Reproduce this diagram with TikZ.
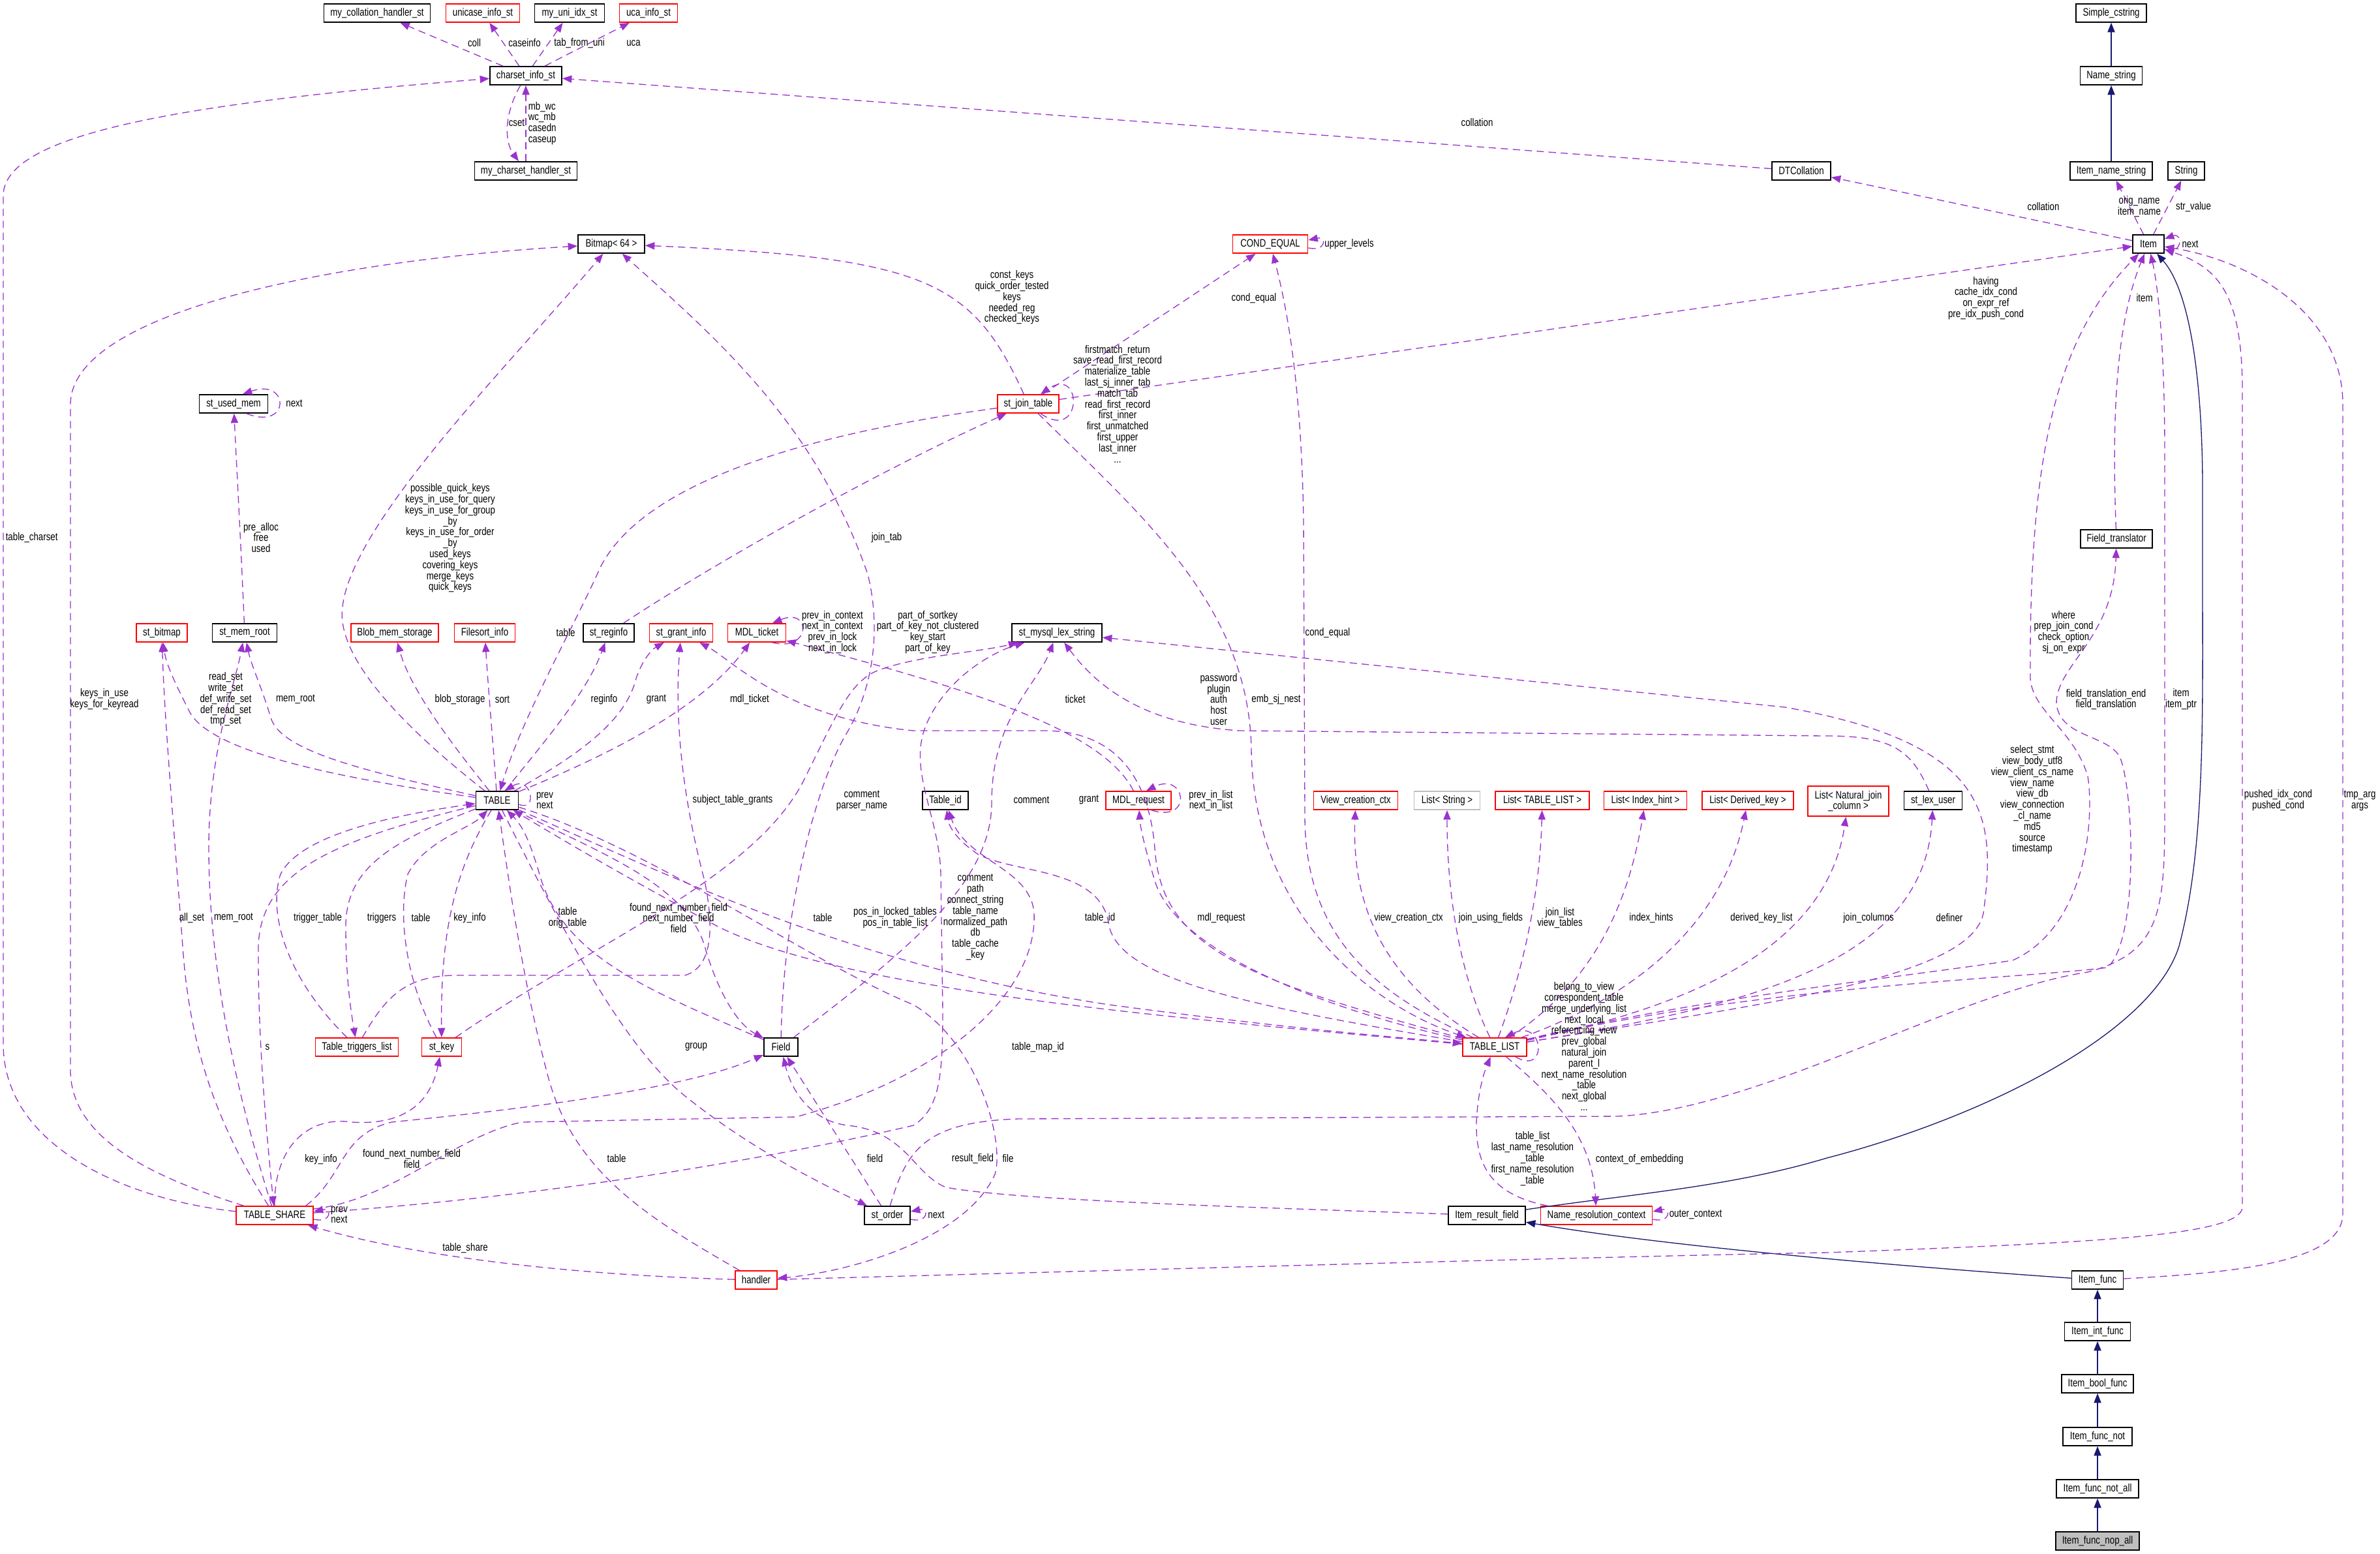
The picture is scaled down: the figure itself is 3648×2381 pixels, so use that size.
\documentclass[tikz,border=0pt]{standalone}
\usepackage{fontspec}
\newfontfamily\lblfont{Liberation Sans}[FakeStretch=0.8]
\newcommand{\lbl}{\lblfont\fontsize{4.15}{4.2}\selectfont}
\usetikzlibrary{arrows.meta}
\definecolor{depc}{HTML}{9A32CD}
\definecolor{inhc}{HTML}{191970}
\definecolor{redc}{HTML}{FF0000}
\definecolor{grayc}{HTML}{BFBFBF}
\tikzset{
 box/.style={draw=black, line width=0.45pt, rectangle, minimum height=7pt, inner sep=0.5pt, font=\lbl, align=center},
 rbox/.style={box, draw=redc},
 gbox/.style={box, draw=grayc},
 dep/.style={draw=depc, line width=0.33pt, dash pattern=on 2.8pt off 1.8pt, -{Triangle[length=3.6pt,width=2.8pt]}},
 inh/.style={draw=inhc, line width=0.33pt, -{Triangle[length=3.6pt,width=2.8pt]}},
 lab/.style={font=\lbl, align=center, inner sep=0pt},
}
\begin{document}
\begin{tikzpicture}[x=0.25pt,y=-0.25pt]
\useasboundingbox (0,0) rectangle (3648,2381);
% ---------- nodes ----------
\node[box,minimum width=40.75pt] (collh) at (578,20) {my\_collation\_handler\_st};
\node[rbox,minimum width=28.25pt] (unic) at (740,20) {unicase\_info\_st};
\node[box,minimum width=26.75pt] (uniidx) at (873,20) {my\_uni\_idx\_st};
\node[rbox,minimum width=22.25pt] (uca) at (994,20) {uca\_info\_st};
\node[box,minimum width=27pt] (scs) at (3236,20) {Simple\_cstring};
\node[box,minimum width=27.5pt] (csi) at (806,116) {charset\_info\_st};
\node[box,minimum width=23.75pt] (ns) at (3236,116) {Name\_string};
\node[box,minimum width=39.25pt] (chh) at (806,262) {my\_charset\_handler\_st};
\node[box,minimum width=22.5pt] (dtc) at (2761,262) {DTCollation};
\node[box,minimum width=31.5pt] (ins) at (3236,262) {Item\_name\_string};
\node[box,minimum width=14pt] (str) at (3351,262) {String};
\node[box,minimum width=25.5pt] (bmp) at (937,374) {Bitmap< 64 >};
\node[rbox,minimum width=28.75pt] (ceq) at (1947,374) {COND\_EQUAL};
\node[box,minimum width=12pt] (item) at (3293,374) {Item};
\node[box,minimum width=26.25pt] (sum) at (358,619) {st\_used\_mem};
\node[rbox,minimum width=23.5pt] (sjt) at (1576,619) {st\_join\_table};
\node[box,minimum width=27.5pt] (ftr) at (3244,826) {Field\_translator};
\node[rbox,minimum width=19.5pt] (sbm) at (248,970) {st\_bitmap};
\node[box,minimum width=24.75pt] (smr) at (375,970) {st\_mem\_root};
\node[rbox,minimum width=33.5pt] (bms) at (605,970) {Blob\_mem\_storage};
\node[rbox,minimum width=23.25pt] (fsi) at (743,970) {Filesort\_info};
\node[box,minimum width=19.5pt] (sri) at (933,970) {st\_reginfo};
\node[rbox,minimum width=24.25pt] (sgi) at (1044,970) {st\_grant\_info};
\node[rbox,minimum width=22.25pt] (mdlt) at (1160,970) {MDL\_ticket};
\node[box,minimum width=34.5pt] (lex) at (1620,970) {st\_mysql\_lex\_string};
\node[box,minimum width=16.25pt] (tbl) at (762,1227) {TABLE};
\node[box,minimum width=17.5pt] (tid) at (1449,1227) {Table\_id};
\node[rbox,minimum width=25pt] (mdlr) at (1745,1227) {MDL\_request};
\node[rbox,minimum width=32.25pt] (vcc) at (2078,1227) {View\_creation\_ctx};
\node[gbox,minimum width=25.25pt] (lstr) at (2218,1227) {List< String >};
\node[rbox,minimum width=36pt] (ltl) at (2364,1227) {List< TABLE\_LIST >};
\node[rbox,minimum width=31.75pt] (lih) at (2522,1227) {List< Index\_hint >};
\node[rbox,minimum width=35pt] (ldk) at (2679,1227) {List< Derived\_key >};
\node[rbox,minimum width=31pt,minimum height=11.5pt] (lnj) at (2833,1228) {List< Natural\_join\\\_column >};
\node[box,minimum width=22.25pt] (slu) at (2963,1227) {st\_lex\_user};
\node[rbox,minimum width=31.75pt] (ttl) at (547,1605) {Table\_triggers\_list};
\node[rbox,minimum width=15.25pt] (skey) at (677,1605) {st\_key};
\node[box,minimum width=13pt] (fld) at (1197,1605) {Field};
\node[rbox,minimum width=24.5pt] (tlist) at (2291,1605) {TABLE\_LIST};
\node[rbox,minimum width=29.5pt] (tsh) at (421,1863) {TABLE\_SHARE};
\node[box,minimum width=17.5pt] (sord) at (1360,1863) {st\_order};
\node[box,minimum width=29.5pt] (irf) at (2279,1863) {Item\_result\_field};
\node[rbox,minimum width=42.75pt] (nrc) at (2447,1863) {Name\_resolution\_context};
\node[rbox,minimum width=16pt] (hnd) at (1159,1962) {handler};
\node[box,minimum width=19.75pt] (ifn) at (3215,1962) {Item\_func};
\node[box,minimum width=25.25pt] (iint) at (3215,2041) {Item\_int\_func};
\node[box,minimum width=27.5pt] (ibool) at (3215,2121) {Item\_bool\_func};
\node[box,minimum width=26.5pt] (inot) at (3215,2202) {Item\_func\_not};
\node[box,minimum width=31.5pt] (inotall) at (3215,2282) {Item\_func\_not\_all};
\node[box,minimum width=32pt,fill=grayc] (inop) at (3215,2362) {Item\_func\_nop\_all};
% ---------- inheritance ----------
\draw[inh] (ins) -- (ns);
\draw[inh] (ns) -- (scs);
\draw[inh] (iint) -- (ifn);
\draw[inh] (ibool) -- (iint);
\draw[inh] (inot) -- (ibool);
\draw[inh] (inotall) -- (inot);
\draw[inh] (inop) -- (inotall);
\draw[inh] (ifn) .. controls (2900,1940) and (2550,1910) .. (irf);
\draw[inh] (irf) .. controls (2500,1830) and (2650,1820) .. (2800,1775) .. controls (3050,1710) and (3300,1580) .. (3340,1450) .. controls (3380,1300) and (3376,1100) .. (3376,900) -- (3376,750) .. controls (3376,600) and (3360,450) .. (item);
% ---------- charset group ----------
\draw[dep] (csi) -- (collh);
\draw[dep] (csi) -- (unic);
\draw[dep] (csi) -- (uniidx);
\draw[dep] (csi) -- (uca);
\draw[dep] (csi) .. controls (770,180) and (775,220) .. (chh);
\draw[dep] (chh.north) -- (csi.south);
\draw[dep] (tsh) .. controls (200,1840) and (5,1760) .. (5,1600) -- (5,300) .. controls (5,210) and (250,160) .. (csi);
\draw[dep] (dtc) -- (csi);
\draw[dep] (item) -- (dtc);
\draw[dep] (item) -- (ins);
\draw[dep] (item) -- (str);
\draw[dep] ([yshift=-2pt]item.east) .. controls +(28,10) and +(28,-10) .. ([yshift=2pt]item.east);
% ---------- Bitmap ----------
\draw[dep] (tsh) .. controls (220,1800) and (108,1740) .. (108,1640) -- (108,620) .. controls (108,480) and (500,400) .. (bmp);
\draw[dep] (tbl) .. controls (600,1100) and (515,1000) .. (525,930) .. controls (540,800) and (780,560) .. (bmp);
\draw[dep] (sjt) .. controls (1490,430) and (1420,395) .. (bmp);
\draw[dep] (fld) .. controls (1200,1400) and (1250,1200) .. (1300,1120) .. controls (1340,1050) and (1350,960) .. (1330,880) .. controls (1250,650) and (1100,520) .. (bmp);
% ---------- st_used_mem ----------
\draw[dep] ([xshift=5pt]sum.south) .. controls +(67,27) and +(73,-25) .. ([xshift=3.5pt]sum.north);
\draw[dep] (smr) .. controls (370,850) and (362,700) .. (sum);
% ---------- st_join_table ----------
\draw[dep] ([xshift=4.75pt]sjt.south) .. controls +(65,45) and +(65,-45) .. ([xshift=4.75pt]sjt.north);
\draw[dep] (sjt) -- (ceq);
\draw[dep] (sjt) -- (item);
\draw[dep] (sjt) .. controls (1200,670) and (980,750) .. (920,870) .. controls (880,960) and (800,1100) .. (tbl);
\draw[dep] (sri) .. controls (1100,860) and (1350,720) .. (sjt);
\draw[dep] (sjt) .. controls (1750,790) and (1915,930) .. (1918,1150) .. controls (1922,1400) and (2100,1540) .. (tlist);
% ---------- COND_EQUAL ----------
\draw[dep] ([yshift=-1.5pt]ceq.east) .. controls +(28,6) and +(28,-6) .. ([yshift=1.5pt]ceq.east);
\draw[dep] (tlist) .. controls (2100,1520) and (2000,1430) .. (2000,1250) -- (1998,800) .. controls (1995,600) and (1975,480) .. (ceq);
% ---------- Item ----------
\draw[dep] (tlist) .. controls (2600,1530) and (2900,1500) .. (3085,1472) .. controls (3200,1420) and (3210,1250) .. (3200,1190) .. controls (3180,1120) and (3115,1090) .. (3112,1040) .. controls (3110,700) and (3150,520) .. (item);
\draw[dep] (ftr) .. controls (3235,600) and (3250,480) .. (item);
\draw[dep] (tlist) .. controls (2700,1510) and (3100,1500) .. (3230,1483) .. controls (3280,1440) and (3270,1200) .. (3248,1158) .. controls (3225,1125) and (3160,1130) .. (3152,1080) .. controls (3150,1020) and (3240,980) .. (ftr);
\draw[dep] (sord) .. controls (1390,1760) and (1420,1720) .. (1560,1715) -- (2480,1711) .. controls (2700,1700) and (3000,1520) .. (3200,1490) .. controls (3310,1460) and (3318,1400) .. (3318,1250) -- (3318,700) .. controls (3318,550) and (3310,450) .. (item);
\draw[dep] (hnd) .. controls (1800,1945) and (2500,1925) .. (2800,1920) .. controls (3200,1905) and (3437,1895) .. (3437,1850) -- (3437,600) .. controls (3437,450) and (3400,410) .. (item);
\draw[dep] (ifn) .. controls (3450,1950) and (3591,1930) .. (3591,1860) -- (3591,620) .. controls (3591,480) and (3450,400) .. (item);
% ---------- TABLE out ----------
\draw[dep] (tbl) .. controls (950,1150) and (1080,1080) .. (mdlt);
\draw[dep] (tbl) .. controls (900,1150) and (960,1100) .. (975,1040) .. controls (985,1010) and (1000,995) .. (sgi);
\draw[dep] (tbl) .. controls (840,1130) and (900,1060) .. (sri);
\draw[dep] (tbl) .. controls (755,1130) and (748,1050) .. (fsi);
\draw[dep] (tbl) .. controls (700,1150) and (630,1060) .. (bms);
\draw[dep] (tbl) .. controls (550,1180) and (430,1150) .. (415,1100) .. controls (400,1050) and (385,1020) .. (smr);
\draw[dep] (tbl) .. controls (500,1190) and (320,1150) .. (290,1090) .. controls (270,1050) and (255,1020) .. (sbm);
\draw[dep] ([yshift=-1.5pt]tbl.east) .. controls +(30,12) and +(40,-25) .. ([xshift=3pt]tbl.north);
\draw[dep] (tbl) .. controls (600,1290) and (530,1330) .. (530,1420) .. controls (530,1500) and (538,1550) .. (ttl);
\draw[dep] (tbl) .. controls (700,1330) and (675,1420) .. (skey);
\draw[dep] (tbl) .. controls (500,1290) and (400,1340) .. (396,1450) .. controls (395,1600) and (410,1750) .. (tsh);
\draw[dep] (tbl) .. controls (850,1400) and (950,1600) .. (1050,1680) .. controls (1150,1760) and (1250,1810) .. (sord);
\draw[dep] (tbl) .. controls (900,1300) and (1050,1350) .. (1080,1450) .. controls (1100,1520) and (1130,1570) .. (fld);
\draw[dep] (tbl) .. controls (1000,1300) and (1250,1480) .. (1400,1540) .. controls (1500,1600) and (1540,1750) .. (1525,1800) .. controls (1480,1900) and (1300,1950) .. (hnd);
\draw[dep] (tbl) .. controls (1000,1330) and (1300,1480) .. (1700,1540) .. controls (2000,1580) and (2150,1590) .. (tlist);
% ---------- into TABLE ----------
\draw[dep] (ttl) .. controls (440,1500) and (410,1400) .. (430,1340) .. controls (460,1280) and (600,1250) .. (tbl);
\draw[dep] (skey) .. controls (620,1500) and (610,1400) .. (625,1340) .. controls (650,1290) and (720,1270) .. (tbl);
\draw[dep] (fld) .. controls (1000,1520) and (870,1470) .. (830,1350) .. controls (815,1300) and (805,1270) .. (tbl);
\draw[dep] (hnd) .. controls (1000,1870) and (880,1800) .. (840,1650) .. controls (800,1500) and (780,1350) .. (tbl);
\draw[dep] (tlist) .. controls (1800,1560) and (1300,1520) .. (1100,1420) .. controls (950,1340) and (850,1280) .. (tbl);
% ---------- TABLE_SHARE out ----------
\draw[dep] (tsh) .. controls (330,1720) and (290,1600) .. (280,1450) .. controls (265,1250) and (252,1100) .. (sbm);
\draw[dep] (tsh) .. controls (370,1700) and (320,1500) .. (320,1300) .. controls (320,1150) and (360,1050) .. (smr);
\draw[dep] (tsh) .. controls (420,1760) and (470,1710) .. (540,1720) .. controls (620,1725) and (660,1690) .. (skey);
\draw[dep] ([xshift=-3pt]tsh.north east) .. controls (530,1800) and (520,1740) .. (600,1720) .. controls (800,1700) and (1050,1670) .. (fld);
\draw[dep] ([yshift=-1.5pt]tsh.east) .. controls +(28,6) and +(28,-6) .. ([yshift=1.5pt]tsh.east);
\draw[dep] ([yshift=1pt]tsh.east) .. controls (900,1830) and (1250,1760) .. (1400,1725) .. controls (1440,1700) and (1445,1650) .. (1445,1550) -- (1442,1340) .. controls (1440,1250) and (1390,1180) .. (1420,1110) .. controls (1450,1040) and (1520,1000) .. (lex);
\draw[dep] ([yshift=2.5pt]tsh.east) .. controls (600,1840) and (700,1740) .. (800,1720) -- (1220,1712) .. controls (1450,1650) and (1590,1520) .. (1585,1400) .. controls (1580,1330) and (1480,1320) .. (tid);
\draw[dep] (hnd) .. controls (900,1955) and (650,1930) .. (tsh);
% ---------- misc ----------
\draw[dep] (sord) -- (fld);
\draw[dep] ([yshift=-1.5pt]sord.east) .. controls +(28,6) and +(28,-6) .. ([yshift=1.5pt]sord.east);
\draw[dep] (irf) .. controls (1900,1850) and (1560,1840) .. (1450,1820) .. controls (1400,1800) and (1390,1735) .. (1300,1725) .. controls (1250,1720) and (1215,1680) .. (fld);
\draw[dep] (skey) .. controls (900,1450) and (1150,1350) .. (1230,1200) .. controls (1280,1100) and (1300,1050) .. (1340,1030) .. controls (1400,1005) and (1500,1000) .. (lex);
\draw[dep] (fld) .. controls (1400,1450) and (1520,1350) .. (1520,1230) .. controls (1520,1100) and (1590,1050) .. (lex);
\draw[dep] (ttl) .. controls (590,1530) and (620,1495) .. (700,1495) -- (1050,1495) .. controls (1100,1480) and (1090,1400) .. (1080,1350) .. controls (1040,1200) and (1035,1080) .. (sgi);
\draw[dep] ([xshift=6pt]mdlt.south) .. controls +(60,15) and +(60,-25) .. ([xshift=6pt]mdlt.north);
\draw[dep] (mdlr) .. controls (1690,1120) and (1500,1060) .. (mdlt);
\draw[dep] ([xshift=5pt]mdlr.south) .. controls +(65,20) and +(60,-30) .. ([xshift=3pt]mdlr.north);
\draw[dep] (slu) .. controls (2930,1150) and (2900,1128) .. (2800,1128) -- (1900,1120) .. controls (1750,1110) and (1680,1050) .. (lex);
% ---------- TABLE_LIST out ----------
\draw[dep] (tlist) .. controls (2700,1540) and (3020,1500) .. (3040,1400) .. controls (3060,1250) and (3050,1140) .. (2736,1084) -- (lex);
\draw[dep] (tlist) .. controls (1900,1500) and (1780,1450) .. (1770,1300) .. controls (1760,1180) and (1700,1120) .. (1600,1120) -- (1400,1120) .. controls (1200,1100) and (1120,1010) .. (sgi);
\draw[dep] (tlist) .. controls (1900,1540) and (1720,1500) .. (1700,1420) .. controls (1690,1330) and (1560,1340) .. (1500,1310) .. controls (1470,1290) and (1455,1270) .. (tid);
\draw[dep] (tlist) .. controls (2000,1540) and (1800,1450) .. (1770,1350) .. controls (1755,1300) and (1748,1270) .. (mdlr);
\draw[dep] (tlist) .. controls (2150,1520) and (2070,1420) .. (vcc);
\draw[dep] (tlist) .. controls (2240,1500) and (2218,1380) .. (lstr);
\draw[dep] (tlist) .. controls (2330,1500) and (2360,1380) .. (ltl);
\draw[dep] (tlist) .. controls (2420,1520) and (2490,1420) .. (lih);
\draw[dep] (tlist) .. controls (2500,1530) and (2640,1420) .. (ldk);
\draw[dep] (tlist) .. controls (2600,1540) and (2800,1450) .. (lnj);
\draw[dep] (tlist) .. controls (2700,1540) and (2950,1470) .. (slu);
\draw[dep] ([xshift=8pt]tlist.south) .. controls +(50,30) and +(60,-30) .. ([xshift=4pt]tlist.north);
\draw[dep] (tlist) .. controls (2380,1680) and (2440,1740) .. (nrc);
\draw[dep] (nrc) .. controls (2280,1830) and (2262,1780) .. (2263,1720) .. controls (2265,1680) and (2272,1650) .. (tlist);
\draw[dep] ([yshift=-1.5pt]nrc.east) .. controls +(28,6) and +(28,-6) .. ([yshift=1.5pt]nrc.east);
% ---------- labels ----------
\node[lab] (L1) at (727,66) {coll};
\node[lab] (L2) at (804,66) {caseinfo};
\node[lab] (L3) at (888,66) {tab\_from\_uni};
\node[lab] (L4) at (971,66) {uca};
\node[lab] (L5) at (792,188) {cset};
\node[lab,anchor=west,align=left] (L6) at (809,189) {mb\_wc\\wc\_mb\\casedn\\caseup};
\node[lab,anchor=west] (L7) at (8,824) {table\_charset};
\node[lab] (L8) at (2264,188) {collation};
\node[lab] (L9) at (3132,317) {collation};
\node[lab] (L10) at (3279,317) {orig\_name\\item\_name};
\node[lab] (L11) at (3362,317) {str\_value};
\node[lab] (L12) at (3357,374) {next};
\node[lab] (L13) at (160,1072) {keys\_in\_use\\keys\_for\_keyread};
\node[lab] (L14) at (690,825) {possible\_quick\_keys\\keys\_in\_use\_for\_query\\keys\_in\_use\_for\_group\\\_by\\keys\_in\_use\_for\_order\\\_by\\used\_keys\\covering\_keys\\merge\_keys\\quick\_keys};
\node[lab] (L15) at (1551,456) {const\_keys\\quick\_order\_tested\\keys\\needed\_reg\\checked\_keys};
\node[lab] (L16) at (1422,969) {part\_of\_sortkey\\part\_of\_key\_not\_clustered\\key\_start\\part\_of\_key};
\node[lab] (L17) at (451,618) {next};
\node[lab] (L18) at (400,824) {pre\_alloc\\free\\used};
\node[lab] (L19) at (1713,619) {firstmatch\_return\\save\_read\_first\_record\\materialize\_table\\last\_sj\_inner\_tab\\match\_tab\\read\_first\_record\\first\_inner\\first\_unmatched\\first\_upper\\last\_inner\\...};
\node[lab] (L20) at (1922,457) {cond\_equal};
\node[lab] (L21) at (3044,457) {having\\cache\_idx\_cond\\on\_expr\_ref\\pre\_idx\_push\_cond};
\node[lab] (L22) at (867,970) {table};
\node[lab] (L23) at (1359,824) {join\_tab};
\node[lab] (L24) at (1956,1072) {emb\_sj\_nest};
\node[lab] (L25) at (2068,374) {upper\_levels};
\node[lab] (L26) at (2035,970) {cond\_equal};
\node[lab] (L27) at (3163,969) {where\\prep\_join\_cond\\check\_option\\sj\_on\_expr};
\node[lab] (L28) at (3287,457) {item};
\node[lab] (L29) at (3228,1072) {field\_translation\_end\\field\_translation};
\node[lab] (L30) at (3343,1072) {item\\item\_ptr};
\node[lab] (L31) at (3492,1227) {pushed\_idx\_cond\\pushed\_cond};
\node[lab] (L32) at (3617,1227) {tmp\_arg\\args};
\node[lab] (L33) at (3115,1226) {select\_stmt\\view\_body\_utf8\\view\_client\_cs\_name\\view\_name\\view\_db\\view\_connection\\\_cl\_name\\md5\\source\\timestamp};
\node[lab] (L34) at (2988,1407) {definer};
\node[lab] (L35) at (2864,1407) {join\_columns};
\node[lab] (L36) at (2700,1407) {derived\_key\_list};
\node[lab] (L37) at (2531,1407) {index\_hints};
\node[lab] (L38) at (2391,1407) {join\_list\\view\_tables};
\node[lab] (L39) at (2285,1407) {join\_using\_fields};
\node[lab] (L40) at (2159,1407) {view\_creation\_ctx};
\node[lab] (L41) at (1872,1407) {mdl\_request};
\node[lab] (L42) at (2428,1604) {belong\_to\_view\\correspondent\_table\\merge\_underlying\_list\\next\_local\\referencing\_view\\prev\_global\\natural\_join\\parent\_l\\next\_name\_resolution\\\_table\\next\_global\\...};
\node[lab] (L43) at (1276,969) {prev\_in\_context\\next\_in\_context\\prev\_in\_lock\\next\_in\_lock};
\node[lab] (L44) at (1648,1072) {ticket};
\node[lab] (L45) at (1856,1227) {prev\_in\_list\\next\_in\_list};
\node[lab] (L46) at (1868,1072) {password\\plugin\\auth\\host\\user};
\node[lab] (L47) at (1321,1227) {comment\\parser\_name};
\node[lab] (L48) at (1581,1226) {comment};
\node[lab] (L49) at (1495,1406) {comment\\path\\connect\_string\\table\_name\\normalized\_path\\db\\table\_cache\\\_key};
\node[lab] (L50) at (1591,1605) {table\_map\_id};
\node[lab] (L51) at (1686,1407) {table\_id};
\node[lab] (L52) at (1669,1226) {grant};
\node[lab] (L53) at (1123,1226) {subject\_table\_grants};
\node[lab] (L54) at (346,1072) {read\_set\\write\_set\\def\_write\_set\\def\_read\_set\\tmp\_set};
\node[lab] (L55) at (453,1072) {mem\_root};
\node[lab] (L56) at (294,1407) {all\_set};
\node[lab] (L57) at (358,1407) {mem\_root};
\node[lab] (L58) at (705,1072) {blob\_storage};
\node[lab] (L59) at (770,1072) {sort};
\node[lab] (L60) at (926,1072) {reginfo};
\node[lab] (L61) at (1006,1072) {grant};
\node[lab] (L62) at (1149,1072) {mdl\_ticket};
\node[lab] (L63) at (487,1407) {trigger\_table};
\node[lab] (L64) at (585,1407) {triggers};
\node[lab] (L65) at (645,1407) {table};
\node[lab] (L66) at (720,1407) {key\_info};
\node[lab] (L67) at (870,1407) {table\\orig\_table};
\node[lab] (L68) at (945,1776) {table};
\node[lab] (L69) at (410,1605) {s};
\node[lab] (L70) at (835,1227) {prev\\next};
\node[lab] (L71) at (1261,1407) {table};
\node[lab] (L72) at (1067,1605) {group};
\node[lab] (L73) at (1040,1407) {found\_next\_number\_field\\next\_number\_field\\field};
\node[lab] (L74) at (631,1776) {found\_next\_number\_field\\field};
\node[lab] (L75) at (492,1777) {key\_info};
\node[lab] (L76) at (1341,1776) {field};
\node[lab] (L77) at (1491,1776) {result\_field};
\node[lab] (L78) at (1545,1776) {file};
\node[lab] (L79) at (713,1913) {table\_share};
\node[lab] (L80) at (1435,1862) {next};
\node[lab] (L81) at (520,1862) {prev\\next};
\node[lab] (L82) at (1372,1407) {pos\_in\_locked\_tables\\pos\_in\_table\_list};
\node[lab] (L83) at (2349,1776) {table\_list\\last\_name\_resolution\\\_table\\first\_name\_resolution\\\_table};
\node[lab] (L84) at (2513,1777) {context\_of\_embedding};
\node[lab] (L85) at (2599,1862) {outer\_context};
\end{tikzpicture}
\end{document}
